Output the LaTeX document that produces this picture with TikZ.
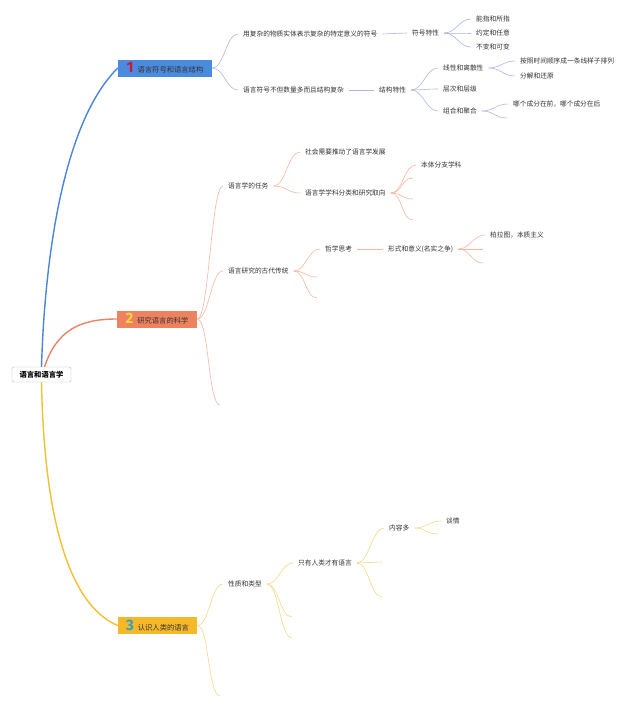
\documentclass[tikz,border=0pt]{standalone}
\usepackage{fontspec}
\newfontfamily\cjk{Noto Sans CJK SC}
\newfontfamily\numfont{Fira Sans}
\usetikzlibrary{positioning}

\definecolor{textgray}{HTML}{333333}
\definecolor{rootgray}{HTML}{BBBBBB}
\definecolor{signfill}{HTML}{4B8BDE}
\definecolor{sciencefill}{HTML}{EF825E}
\definecolor{humanfill}{HTML}{F5B829}
\definecolor{numred}{HTML}{C8193C}
\definecolor{numyellow}{HTML}{F9D448}
\definecolor{numteal}{HTML}{2E9FC7}
\definecolor{signline}{HTML}{4A86D6}
\definecolor{scienceline}{HTML}{E98366}
\definecolor{humanline}{HTML}{F2C12E}
\definecolor{signtwig}{HTML}{AEB7E6}
\definecolor{sciencetwig}{HTML}{F6B7A1}
\definecolor{humantwig}{HTML}{F4D98B}

\newcommand{\topicnum}[2]{{\numfont\bfseries\fontsize{15}{15}\selectfont\color{#1}#2}\hspace{4pt}}

\begin{document}
\begin{tikzpicture}[
    x=1pt, y=-1pt,
    topic/.style={anchor=west, inner xsep=5pt, inner ysep=1pt, text=textgray, font=\cjk\fontsize{6.7}{8}\selectfont},
    mainbox/.style={minimum height=17pt, inner xsep=0pt, inner ysep=0pt, text=textgray, font=\cjk\fontsize{7.3}{9}\selectfont},
    rootbox/.style={draw=rootgray, fill=white, rounded corners=1.5pt, minimum width=59pt, minimum height=15pt, inner sep=0pt, text=black, font=\cjk\bfseries\fontsize{7.3}{9}\selectfont},
    limb/.style={line width=1.4pt},
    twig/.style={line width=0.6pt, to path={.. controls ([xshift=12pt]\tikztostart) and ([xshift=-12pt]\tikztotarget) .. (\tikztotarget)}}
]
\fill[white] (0,0) rectangle (640,707);
\useasboundingbox (0,0) rectangle (640,707);

% root and main topics
\node[rootbox] (lingo) at (41.5,374.5) {语言和语言学};
\node[mainbox, fill=signfill, minimum width=94pt] (sign) at (165,68) {\topicnum{numred}{1}语言符号和语言结构};
\node[mainbox, fill=sciencefill, minimum width=80pt] (science) at (157,319) {\topicnum{numyellow}{2}研究语言的科学};
\node[mainbox, fill=humanfill, minimum width=79pt] (human) at (157.5,625.5) {\topicnum{numteal}{3}认识人类的语言};

\draw[limb, signline] (lingo.north) .. controls (45,250) and (65,120) .. (sign.west);
\draw[limb, scienceline] ([xshift=3pt]lingo.north) .. controls (57,330) and (80,319) .. (science.west);
\draw[limb, humanline] (lingo.south) .. controls (45,560) and (85,612) .. (human.west);

% 1
\node[topic] (symdef) at (238,34) {用复杂的物质实体表示复杂的特定意义的符号};
\node[topic] (symtrait) at (407,33) {符号特性};
\node[topic] (signifier) at (471,19) {能指和所指};
\node[topic] (arbitrary) at (471,33) {约定和任意};
\node[topic] (mutable) at (471,47) {不变和可变};
\node[topic] (strdef) at (238,90) {语言符号不但数量多而且结构复杂};
\node[topic] (strtrait) at (374,90) {结构特性};
\node[topic] (linear) at (438,68) {线性和离散性};
\node[topic] (layer) at (438,89) {层次和层级};
\node[topic] (combo) at (438,111) {组合和聚合};
\node[topic] (timeline) at (515,61) {按照时间顺序成一条线样子排列};
\node[topic] (decomp) at (515,76) {分解和还原};
\node[topic] (order) at (508,104) {哪个成分在前，哪个成分在后};
\coordinate (comboend) at (507,118);

\begin{scope}[signtwig]
\draw[twig] (sign.east) to (symdef.west);
\draw[twig] (sign.east) to (strdef.west);
\draw[twig] (symdef.east) to (symtrait.west);
\draw[twig] (symtrait.east) to (signifier.west);
\draw[twig] (symtrait.east) to (arbitrary.west);
\draw[twig] (symtrait.east) to (mutable.west);
\draw[twig] (strdef.east) to (strtrait.west);
\draw[twig] (strtrait.east) to (linear.west);
\draw[twig] (strtrait.east) to (layer.west);
\draw[twig] (strtrait.east) to (combo.west);
\draw[twig] (linear.east) to (timeline.west);
\draw[twig] (linear.east) to (decomp.west);
\draw[twig] (combo.east) to (order.west);
\draw[twig] (combo.east) to (comboend);
\end{scope}

% 2
\node[topic] (task) at (223,186) {语言学的任务};
\node[topic] (society) at (300,152) {社会需要推动了语言学发展};
\node[topic] (classif) at (300,193) {语言学学科分类和研究取向};
\node[topic] (onto) at (416,165) {本体分支学科};
\coordinate (classifa) at (413,178);
\coordinate (classifb) at (413,199);
\coordinate (classifc) at (413,220);
\node[topic] (ancient) at (223,271) {语言研究的古代传统};
\node[topic] (philo) at (320,249) {哲学思考};
\node[topic] (form) at (383,249) {形式和意义(名实之争)};
\node[topic] (plato) at (485,235) {柏拉图，本质主义};
\coordinate (forma) at (483,249);
\coordinate (formb) at (483,263);
\coordinate (ancienta) at (317,277);
\coordinate (ancientb) at (317,298);
\coordinate (scienceend) at (220,405);

\begin{scope}[sciencetwig]
\draw[twig] (science.east) to (task.west);
\draw[twig] (science.east) to (ancient.west);
\draw[twig] (science.east) to (scienceend);
\draw[twig] (task.east) to (society.west);
\draw[twig] (task.east) to (classif.west);
\draw[twig] (classif.east) to (onto.west);
\draw[twig] (classif.east) to (classifa);
\draw[twig] (classif.east) to (classifb);
\draw[twig] (classif.east) to (classifc);
\draw[twig] (ancient.east) to (philo.west);
\draw[twig] (ancient.east) to (ancienta);
\draw[twig] (ancient.east) to (ancientb);
\draw[twig] (philo.east) to (form.west);
\draw[twig] (form.east) to (plato.west);
\draw[twig] (form.east) to (forma);
\draw[twig] (form.east) to (formb);
\end{scope}

% 3
\node[topic] (nature) at (223,584) {性质和类型};
\node[topic] (only) at (293,563) {只有人类才有语言};
\node[topic] (content) at (384,528) {内容多};
\node[topic] (flirt) at (441,521) {谈情};
\coordinate (contentend) at (438,534);
\coordinate (onlya) at (382,562);
\coordinate (onlyb) at (382,597);
\coordinate (naturea) at (292,617);
\coordinate (natureb) at (292,638);
\coordinate (humanend) at (220,696);

\begin{scope}[humantwig]
\draw[twig] (human.east) to (nature.west);
\draw[twig] (human.east) to (humanend);
\draw[twig] (nature.east) to (only.west);
\draw[twig] (nature.east) to (naturea);
\draw[twig] (nature.east) to (natureb);
\draw[twig] (only.east) to (content.west);
\draw[twig] (only.east) to (onlya);
\draw[twig] (only.east) to (onlyb);
\draw[twig] (content.east) to (flirt.west);
\draw[twig] (content.east) to (contentend);
\end{scope}
\end{tikzpicture}
\end{document}
